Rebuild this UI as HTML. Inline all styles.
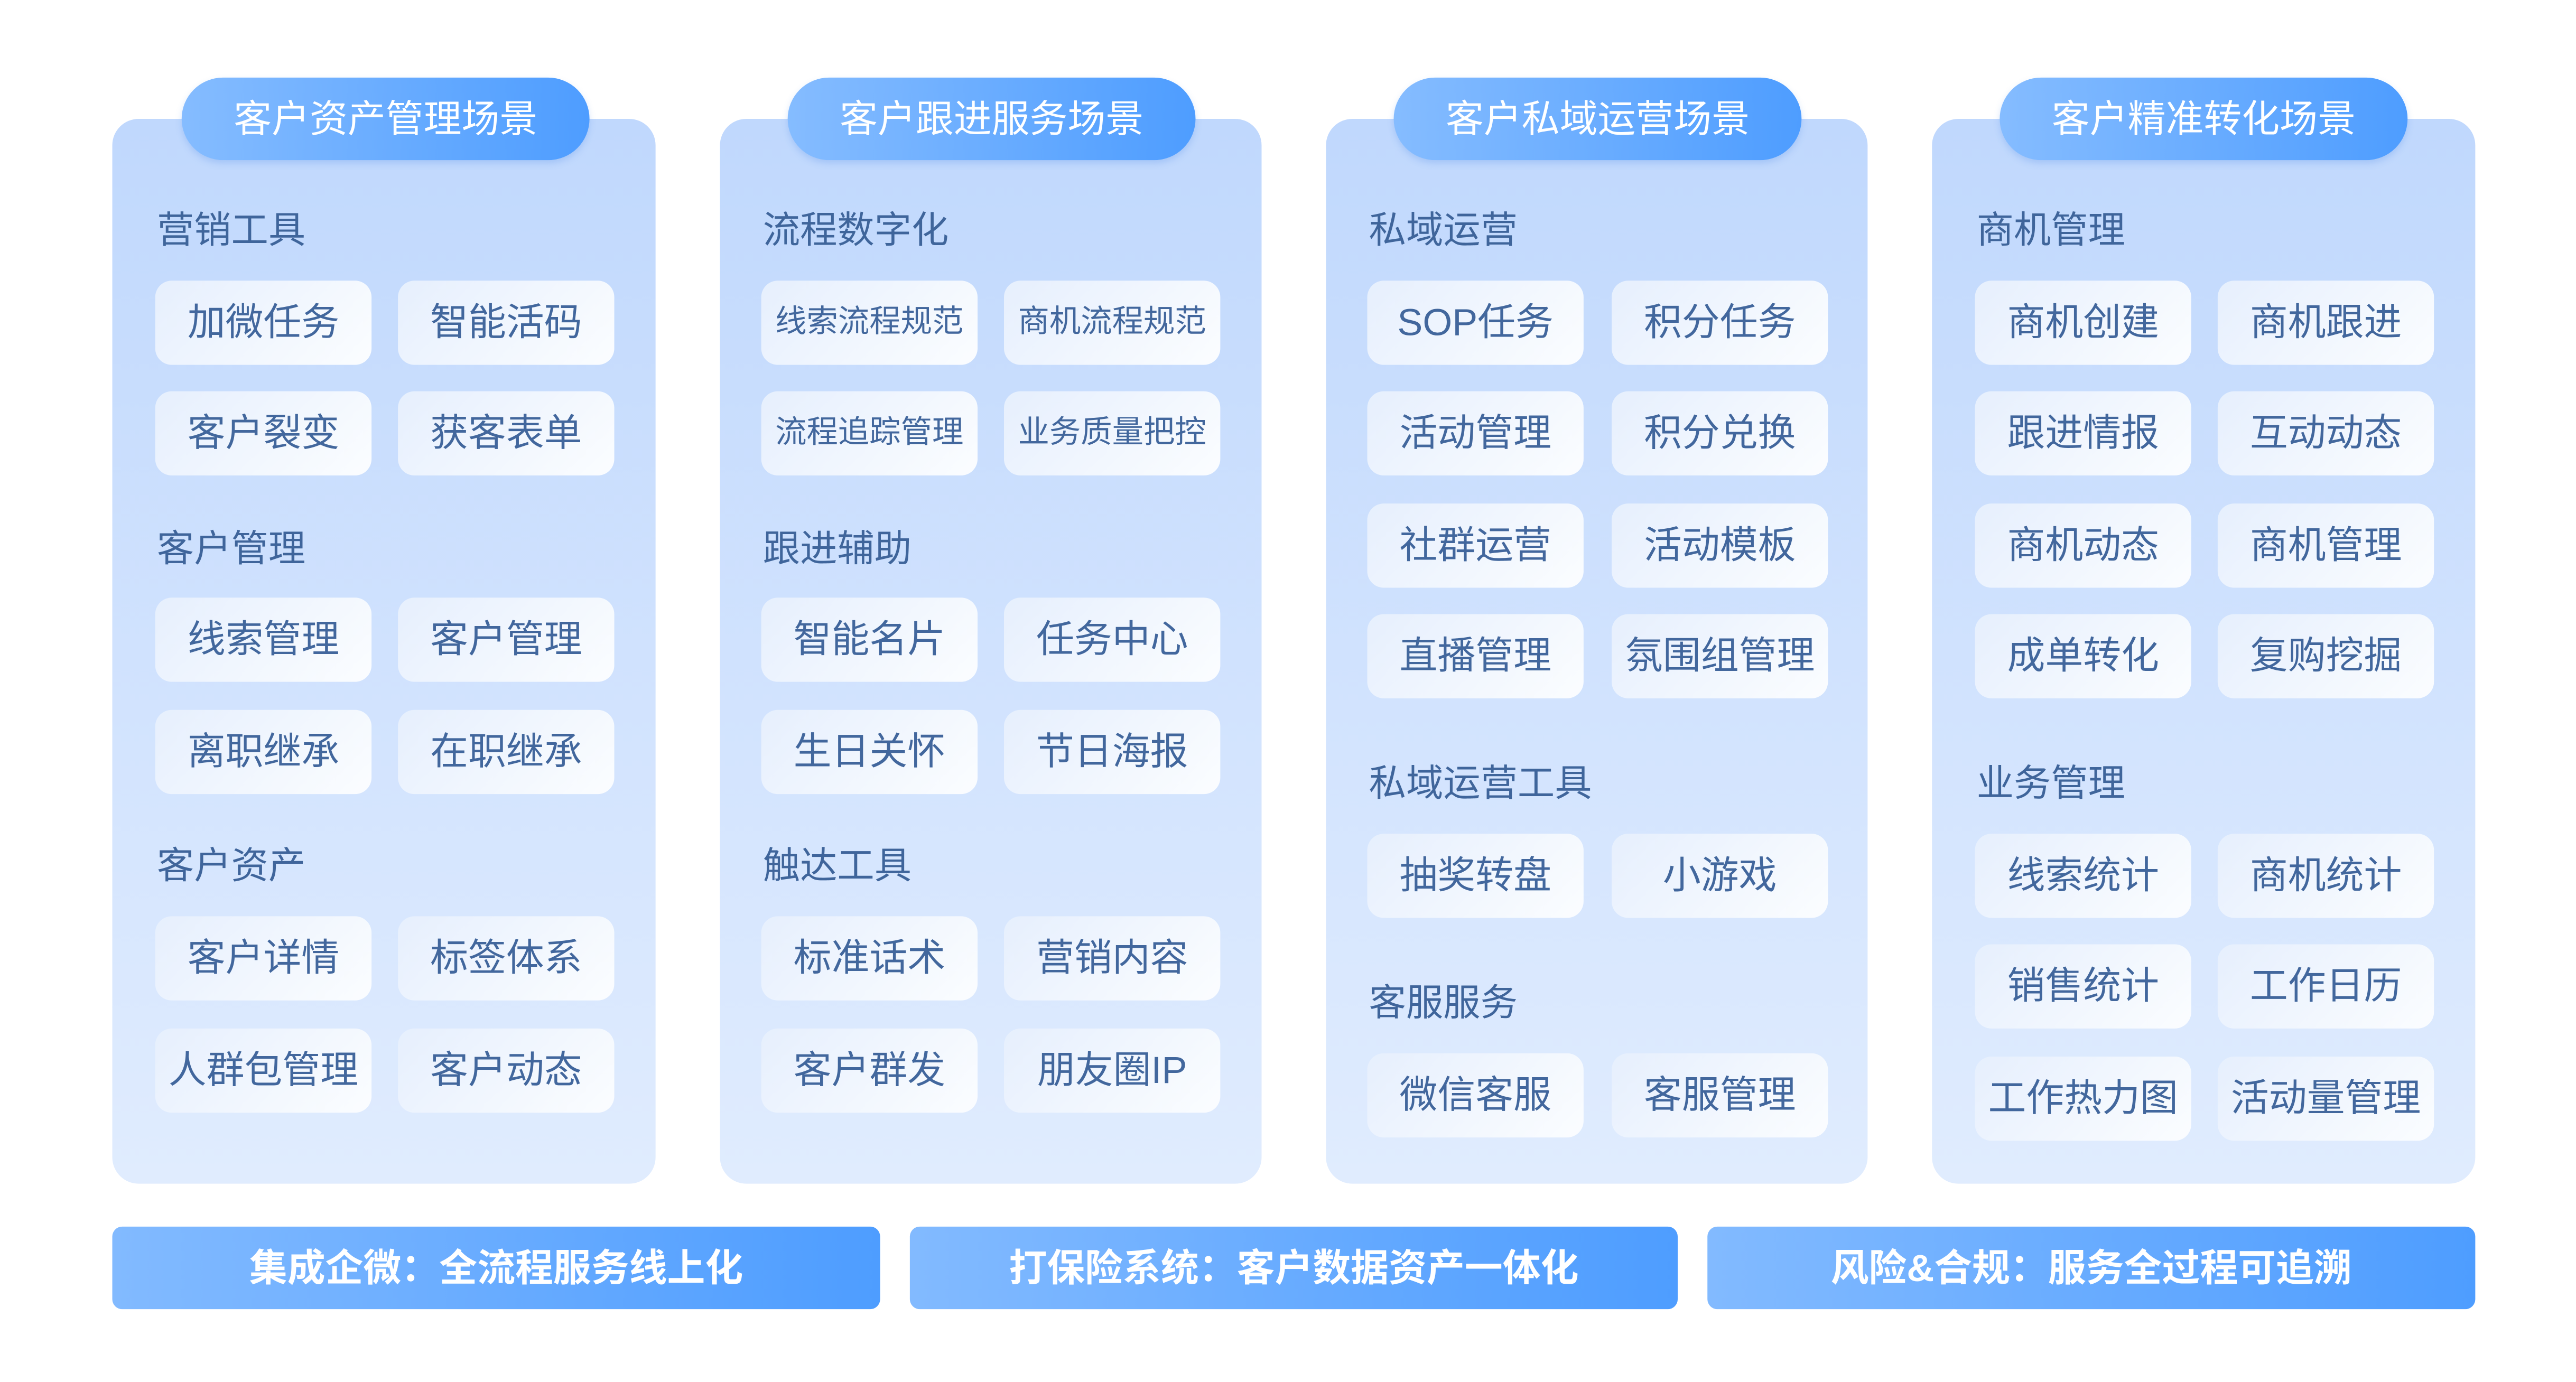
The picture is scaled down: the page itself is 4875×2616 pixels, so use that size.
<!DOCTYPE html>
<html><head><meta charset="utf-8"><style>
html,body{margin:0;padding:0;background:#fff;}
body{width:4875px;height:2616px;overflow:hidden;position:relative;font-family:"Liberation Sans","Noto Sans CJK SC",sans-serif;}
#s{position:absolute;left:0;top:0;width:1560px;height:837px;transform:scale(3.125);transform-origin:0 0;}
.panel{position:absolute;top:72px;width:329px;height:645px;border-radius:16px;background:linear-gradient(180deg,#c0d8fd 0%,#e0ecfe 100%);}
.pill{position:absolute;top:47px;width:247px;height:50px;border-radius:25px;background:linear-gradient(90deg,#85bcff,#4e9dff);color:#fff;font-size:23px;line-height:50px;text-align:center;box-shadow:0 2px 4px rgba(80,140,230,.25);}
.t{position:absolute;font-size:22.5px;color:#3f659b;line-height:26px;}
.b{position:absolute;width:131px;height:51px;border-radius:10px;background:linear-gradient(135deg,#e6effd 0%,#fbfdff 100%);color:#42679d;font-size:23px;line-height:51px;text-align:center;}
.sm{font-size:19px;}
.ban{position:absolute;top:743px;width:465px;height:50px;border-radius:6px;background:linear-gradient(90deg,#82baff,#4e9dff);color:#fff;font-weight:bold;font-size:23px;line-height:50px;text-align:center;}
</style></head><body><div id="s">
<div class="panel" style="left:68px"></div>
<div class="pill" style="left:110px">客户资产管理场景</div>
<div class="t" style="left:95px;top:127px">营销工具</div>
<div class="b" style="left:94px;top:170px">加微任务</div><div class="b" style="left:241px;top:170px">智能活码</div>
<div class="b" style="left:94px;top:237px">客户裂变</div><div class="b" style="left:241px;top:237px">获客表单</div>
<div class="t" style="left:95px;top:320px">客户管理</div>
<div class="b" style="left:94px;top:362px">线索管理</div><div class="b" style="left:241px;top:362px">客户管理</div>
<div class="b" style="left:94px;top:430px">离职继承</div><div class="b" style="left:241px;top:430px">在职继承</div>
<div class="t" style="left:95px;top:512px">客户资产</div>
<div class="b" style="left:94px;top:555px">客户详情</div><div class="b" style="left:241px;top:555px">标签体系</div>
<div class="b" style="left:94px;top:623px">人群包管理</div><div class="b" style="left:241px;top:623px">客户动态</div>
<div class="panel" style="left:436px;width:328px"></div>
<div class="pill" style="left:477px">客户跟进服务场景</div>
<div class="t" style="left:462px;top:127px">流程数字化</div>
<div class="b sm" style="left:461px;top:170px">线索流程规范</div><div class="b sm" style="left:608px;top:170px">商机流程规范</div>
<div class="b sm" style="left:461px;top:237px">流程追踪管理</div><div class="b sm" style="left:608px;top:237px">业务质量把控</div>
<div class="t" style="left:462px;top:320px">跟进辅助</div>
<div class="b" style="left:461px;top:362px">智能名片</div><div class="b" style="left:608px;top:362px">任务中心</div>
<div class="b" style="left:461px;top:430px">生日关怀</div><div class="b" style="left:608px;top:430px">节日海报</div>
<div class="t" style="left:462px;top:512px">触达工具</div>
<div class="b" style="left:461px;top:555px">标准话术</div><div class="b" style="left:608px;top:555px">营销内容</div>
<div class="b" style="left:461px;top:623px">客户群发</div><div class="b" style="left:608px;top:623px">朋友圈IP</div>
<div class="panel" style="left:803px;width:328px"></div>
<div class="pill" style="left:844px">客户私域运营场景</div>
<div class="t" style="left:829px;top:127px">私域运营</div>
<div class="b" style="left:828px;top:170px">SOP任务</div><div class="b" style="left:976px;top:170px">积分任务</div>
<div class="b" style="left:828px;top:237px">活动管理</div><div class="b" style="left:976px;top:237px">积分兑换</div>
<div class="b" style="left:828px;top:305px">社群运营</div><div class="b" style="left:976px;top:305px">活动模板</div>
<div class="b" style="left:828px;top:372px">直播管理</div><div class="b" style="left:976px;top:372px">氛围组管理</div>
<div class="t" style="left:829px;top:462px">私域运营工具</div>
<div class="b" style="left:828px;top:505px">抽奖转盘</div><div class="b" style="left:976px;top:505px">小游戏</div>
<div class="t" style="left:829px;top:595px">客服服务</div>
<div class="b" style="left:828px;top:638px">微信客服</div><div class="b" style="left:976px;top:638px">客服管理</div>
<div class="panel" style="left:1170px"></div>
<div class="pill" style="left:1211px">客户精准转化场景</div>
<div class="t" style="left:1197px;top:127px">商机管理</div>
<div class="b" style="left:1196px;top:170px">商机创建</div><div class="b" style="left:1343px;top:170px">商机跟进</div>
<div class="b" style="left:1196px;top:237px">跟进情报</div><div class="b" style="left:1343px;top:237px">互动动态</div>
<div class="b" style="left:1196px;top:305px">商机动态</div><div class="b" style="left:1343px;top:305px">商机管理</div>
<div class="b" style="left:1196px;top:372px">成单转化</div><div class="b" style="left:1343px;top:372px">复购挖掘</div>
<div class="t" style="left:1197px;top:462px">业务管理</div>
<div class="b" style="left:1196px;top:505px">线索统计</div><div class="b" style="left:1343px;top:505px">商机统计</div>
<div class="b" style="left:1196px;top:572px">销售统计</div><div class="b" style="left:1343px;top:572px">工作日历</div>
<div class="b" style="left:1196px;top:640px">工作热力图</div><div class="b" style="left:1343px;top:640px">活动量管理</div>
<div class="ban" style="left:68px">集成企微：全流程服务线上化</div>
<div class="ban" style="left:551px">打保险系统：客户数据资产一体化</div>
<div class="ban" style="left:1034px">风险&amp;合规：服务全过程可追溯</div>
</div></body></html>
